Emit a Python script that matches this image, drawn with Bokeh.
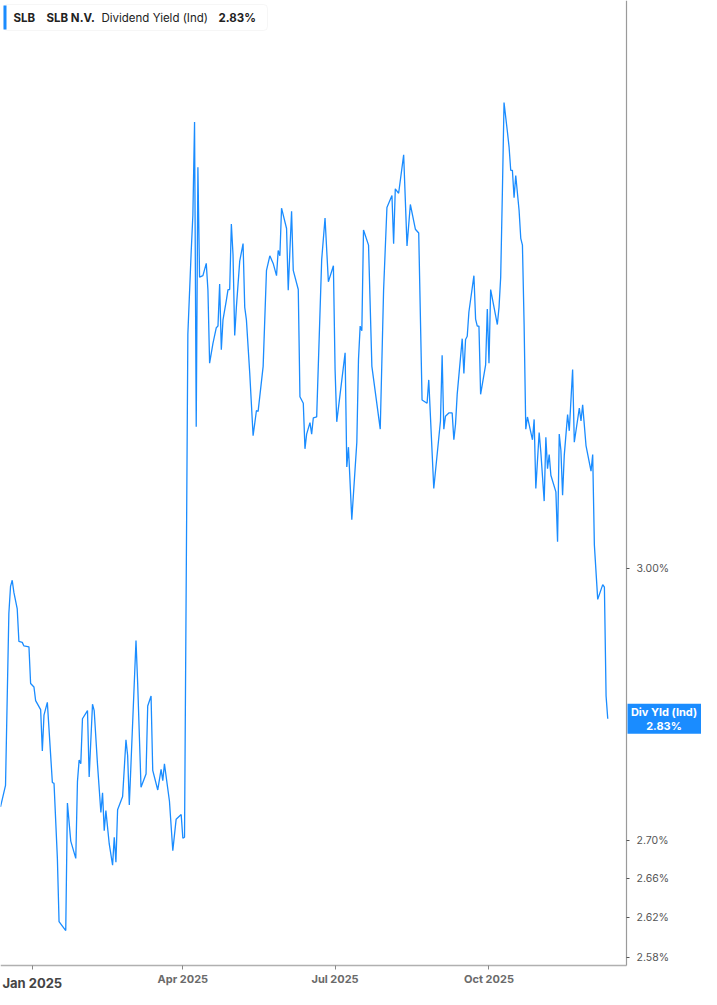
import pandas as pd
from bokeh.plotting import figure
from bokeh.models import (ColumnDataSource, Range1d, FixedTicker, PrintfTickFormatter,
                          Label, BoxAnnotation)
from bokeh.embed import file_html
from bokeh.resources import INLINE

# SLB dividend yield (indicated), %
dates = [
    "2024-12-13", "2024-12-16", "2024-12-18", "2024-12-19", "2024-12-20", "2024-12-21", "2024-12-23",
    "2024-12-24", "2024-12-26", "2024-12-27", "2024-12-30", "2024-12-31", "2025-01-02", "2025-01-03",
    "2025-01-06", "2025-01-07", "2025-01-08", "2025-01-10", "2025-01-13", "2025-01-14", "2025-01-16",
    "2025-01-17", "2025-01-21", "2025-01-22", "2025-01-24", "2025-01-27", "2025-01-28", "2025-01-29",
    "2025-01-30", "2025-01-31", "2025-02-03", "2025-02-04", "2025-02-06", "2025-02-07", "2025-02-09",
    "2025-02-11", "2025-02-12", "2025-02-13", "2025-02-14", "2025-02-16", "2025-02-18", "2025-02-19",
    "2025-02-20", "2025-02-21", "2025-02-24", "2025-02-26", "2025-02-27", "2025-02-28", "2025-03-04",
    "2025-03-05", "2025-03-07", "2025-03-10", "2025-03-11", "2025-03-13", "2025-03-14", "2025-03-17",
    "2025-03-19", "2025-03-20", "2025-03-21", "2025-03-24", "2025-03-26", "2025-03-28", "2025-03-31",
    "2025-04-01", "2025-04-02", "2025-04-04", "2025-04-06", "2025-04-07", "2025-04-08", "2025-04-09",
    "2025-04-10", "2025-04-11", "2025-04-13", "2025-04-15", "2025-04-16", "2025-04-17", "2025-04-19",
    "2025-04-21", "2025-04-22", "2025-04-23", "2025-04-24", "2025-04-25", "2025-04-27", "2025-04-28",
    "2025-04-29", "2025-04-30", "2025-05-01", "2025-05-02", "2025-05-03", "2025-05-05", "2025-05-07",
    "2025-05-08", "2025-05-09", "2025-05-11", "2025-05-13", "2025-05-15", "2025-05-16", "2025-05-19",
    "2025-05-21", "2025-05-23", "2025-05-25", "2025-05-27", "2025-05-28", "2025-05-29", "2025-05-30",
    "2025-06-02", "2025-06-03", "2025-06-05", "2025-06-06", "2025-06-09", "2025-06-10", "2025-06-12",
    "2025-06-13", "2025-06-14", "2025-06-16", "2025-06-17", "2025-06-18", "2025-06-20", "2025-06-23",
    "2025-06-25", "2025-06-27", "2025-06-30", "2025-07-01", "2025-07-02", "2025-07-07", "2025-07-08",
    "2025-07-09", "2025-07-11", "2025-07-14", "2025-07-15", "2025-07-16", "2025-07-17", "2025-07-18",
    "2025-07-21", "2025-07-23", "2025-07-28", "2025-07-30", "2025-08-01", "2025-08-04", "2025-08-05",
    "2025-08-06", "2025-08-08", "2025-08-11", "2025-08-13", "2025-08-15", "2025-08-18", "2025-08-20",
    "2025-08-22", "2025-08-25", "2025-08-26", "2025-08-29", "2025-09-02", "2025-09-03", "2025-09-04",
    "2025-09-05", "2025-09-07", "2025-09-09", "2025-09-10", "2025-09-11", "2025-09-12", "2025-09-15",
    "2025-09-16", "2025-09-17", "2025-09-18", "2025-09-19", "2025-09-22", "2025-09-23", "2025-09-24",
    "2025-09-25", "2025-09-26", "2025-09-29", "2025-09-30", "2025-10-01", "2025-10-02", "2025-10-06",
    "2025-10-07", "2025-10-08", "2025-10-09", "2025-10-10", "2025-10-12", "2025-10-13", "2025-10-14",
    "2025-10-15", "2025-10-16", "2025-10-17", "2025-10-19", "2025-10-20", "2025-10-21", "2025-10-22",
    "2025-10-23", "2025-10-24", "2025-10-27", "2025-10-28", "2025-10-29", "2025-10-31", "2025-11-01",
    "2025-11-03", "2025-11-04", "2025-11-05", "2025-11-06", "2025-11-07", "2025-11-10", "2025-11-11",
    "2025-11-12", "2025-11-13", "2025-11-14", "2025-11-15", "2025-11-17", "2025-11-18", "2025-11-20",
    "2025-11-21", "2025-11-24", "2025-11-25", "2025-11-26", "2025-11-28", "2025-12-01", "2025-12-02",
    "2025-12-03", "2025-12-05", "2025-12-08", "2025-12-09", "2025-12-10", "2025-12-11",
]
div_yield = [
    2.735, 2.758, 2.948, 2.979, 2.986, 2.972, 2.953, 2.916, 2.915, 2.911, 2.910, 2.869, 2.865, 2.850,
    2.840, 2.795, 2.834, 2.848, 2.761, 2.760, 2.681, 2.616, 2.607, 2.739, 2.699, 2.681, 2.762, 2.785,
    2.781, 2.830, 2.839, 2.767, 2.846, 2.839, 2.780, 2.729, 2.750, 2.710, 2.731, 2.696, 2.674, 2.703,
    2.677, 2.732, 2.746, 2.807, 2.790, 2.737, 2.917, 2.869, 2.756, 2.770, 2.844, 2.855, 2.774, 2.753,
    2.775, 2.763, 2.781, 2.741, 2.689, 2.722, 2.727, 2.702, 2.703, 3.285, 3.392, 3.440, 3.566, 3.169,
    3.504, 3.358, 3.360, 3.376, 3.341, 3.248, 3.273, 3.293, 3.295, 3.349, 3.265, 3.303, 3.328, 3.342,
    3.342, 3.428, 3.387, 3.283, 3.319, 3.379, 3.402, 3.319, 3.303, 3.235, 3.158, 3.189, 3.188, 3.244,
    3.367, 3.386, 3.376, 3.360, 3.393, 3.386, 3.449, 3.422, 3.341, 3.445, 3.367, 3.342, 3.206, 3.198,
    3.142, 3.160, 3.174, 3.160, 3.180, 3.181, 3.381, 3.436, 3.352, 3.373, 3.240, 3.175, 3.261, 3.120,
    3.144, 3.057, 3.150, 3.253, 3.295, 3.289, 3.420, 3.400, 3.244, 3.166, 3.341, 3.450, 3.466, 3.402,
    3.475, 3.469, 3.521, 3.399, 3.454, 3.421, 3.416, 3.202, 3.198, 3.227, 3.094, 3.176, 3.258, 3.166,
    3.182, 3.186, 3.186, 3.153, 3.172, 3.209, 3.279, 3.235, 3.278, 3.282, 3.313, 3.360, 3.304, 3.295,
    3.295, 3.209, 3.246, 3.317, 3.248, 3.342, 3.297, 3.319, 3.358, 3.469, 3.593, 3.553, 3.532, 3.500,
    3.500, 3.463, 3.493, 3.446, 3.409, 3.400, 3.297, 3.166, 3.181, 3.153, 3.178, 3.094, 3.162, 3.138,
    3.079, 3.156, 3.118, 3.135, 3.110, 3.090, 3.031, 3.160, 3.140, 3.086, 3.134, 3.184, 3.164, 3.240,
    3.150, 3.192, 3.176, 3.196, 3.146, 3.115, 3.135, 3.027, 2.964, 2.981, 2.978, 2.855, 2.830,
]

y_ticks = [2.58, 2.62, 2.66, 2.70, 3.00]
x_tick_dates = ["2025-01-01", "2025-04-01", "2025-07-01", "2025-10-01"]
x_tick_labels = ["Jan 2025", "Apr 2025", "Jul 2025", "Oct 2025"]
ticker_symbol = "SLB"
company = "SLB N.V."
series_name = "Dividend Yield (Ind)"
tag_name = "Div Yld (Ind)"
last_value = div_yield[-1]

# visible window of the chart (left edge .. price axis, bottom .. top)
x_start = pd.Timestamp("2024-12-13")
x_axis_at = pd.Timestamp("2025-12-22 05:00")
y_low, y_high = 2.572, 3.738

BLUE = "#1a8cff"
FONT = "Inter"
W, H = 701, 989
AXIS_X, AXIS_Y = 626, 965          # pixel position of the price axis / time axis

# the frame covers the whole canvas; axes are pinned inside it
x_end = x_axis_at + (x_axis_at - x_start) * ((W - AXIS_X) / AXIS_X)
y_bottom = y_low * (y_low / y_high) ** ((H - AXIS_Y) / AXIS_Y)
px_factor = (y_high / y_low) ** (1 / AXIS_Y)      # value ratio per vertical pixel

source = ColumnDataSource(dict(date=pd.to_datetime(dates), value=div_yield))

p = figure(width=W, height=H, x_axis_type="datetime", y_axis_type="log",
           x_range=Range1d(x_start, x_end), y_range=Range1d(y_bottom, y_high),
           y_axis_location="right", output_backend="svg", toolbar_location=None,
           min_border=0)
p.outline_line_color = None
p.xgrid.visible = False
p.ygrid.visible = False

p.line("date", "value", source=source, line_color=BLUE, line_width=1.3)

to_ms = lambda t: int(pd.Timestamp(t).value // 10**6)

# right (log) axis
p.yaxis.fixed_location = to_ms(x_axis_at)
p.yaxis.bounds = (y_low, y_high)
p.yaxis.ticker = FixedTicker(ticks=y_ticks, minor_ticks=[])
p.yaxis.formatter = PrintfTickFormatter(format="%.2f%%")
p.yaxis.axis_line_color = "#9a9a9a"
p.yaxis.axis_line_width = 1.2
p.yaxis.major_tick_line_color = "#555555"
p.yaxis.major_tick_out = 3
p.yaxis.major_tick_in = 0
p.yaxis.minor_tick_line_color = None
p.yaxis.major_label_text_font = FONT
p.yaxis.major_label_text_font_size = "10.5px"
p.yaxis.major_label_text_color = "#555555"
p.yaxis.major_label_standoff = 7

# bottom axis
tick_ms = [to_ms(d) for d in x_tick_dates]
p.xaxis.fixed_location = y_low
p.xaxis.bounds = (to_ms(x_start), to_ms(x_axis_at))
p.xaxis.ticker = FixedTicker(ticks=tick_ms, minor_ticks=[])
p.xaxis.major_label_overrides = {t: ("" if i == 0 else lab)
                                 for i, (t, lab) in enumerate(zip(tick_ms, x_tick_labels))}
p.xaxis.axis_line_color = "#b0b0b0"
p.xaxis.axis_line_width = 1.5
p.xaxis.major_tick_line_color = "#888888"
p.xaxis.major_tick_out = 4
p.xaxis.major_tick_in = 0
p.xaxis.minor_tick_line_color = None
p.xaxis.major_label_text_font = FONT
p.xaxis.major_label_text_font_size = "11px"
p.xaxis.major_label_text_font_style = "bold"
p.xaxis.major_label_text_color = "#6a6a6a"
p.xaxis.major_label_standoff = 2

# year label drawn bold
p.add_layout(Label(x=tick_ms[0], y=H - AXIS_Y - 17, x_units="data", y_units="screen",
                   text=x_tick_labels[0], text_font=FONT, text_font_size="13px",
                   text_font_style="bold", text_color="#444444",
                   text_align="center", text_baseline="middle"))

# header legend box
p.add_layout(BoxAnnotation(left=3, right=267, top=H - 4, bottom=H - 30,
                           left_units="screen", right_units="screen",
                           top_units="screen", bottom_units="screen",
                           fill_color="white", fill_alpha=1, line_color="#e2e2e2",
                           line_width=1, border_radius=4))
p.add_layout(BoxAnnotation(left=3, right=6, top=H - 5, bottom=H - 29,
                           left_units="screen", right_units="screen",
                           top_units="screen", bottom_units="screen",
                           fill_color=BLUE, fill_alpha=1, line_color=None))
for xpos, txt, style in [(13, ticker_symbol, "bold"), (46, company, "bold"),
                         (101, series_name, "normal"), (218, f"{last_value:.2f}%", "bold")]:
    p.add_layout(Label(x=xpos, y=H - 17, x_units="screen", y_units="screen", text=txt,
                       text_font=FONT, text_font_size="11.5px", text_font_style=style,
                       text_color="#222222", text_baseline="middle"))

# last value tag on the price axis
p.add_layout(BoxAnnotation(left=AXIS_X + 1, right=W, left_units="screen", right_units="screen",
                           top=last_value * px_factor ** 15, bottom=last_value / px_factor ** 15,
                           fill_color=BLUE, fill_alpha=1, line_color=None))
p.add_layout(Label(x=(AXIS_X + W) / 2, y=last_value, x_units="screen", y_units="data",
                   text=f"{tag_name}\n{last_value:.2f}%",
                   text_font=FONT, text_font_size="11px", text_font_style="bold",
                   text_line_height=1.0, text_color="white",
                   text_align="center", text_baseline="middle"))

open("out.html", "w").write(file_html(p, INLINE))
